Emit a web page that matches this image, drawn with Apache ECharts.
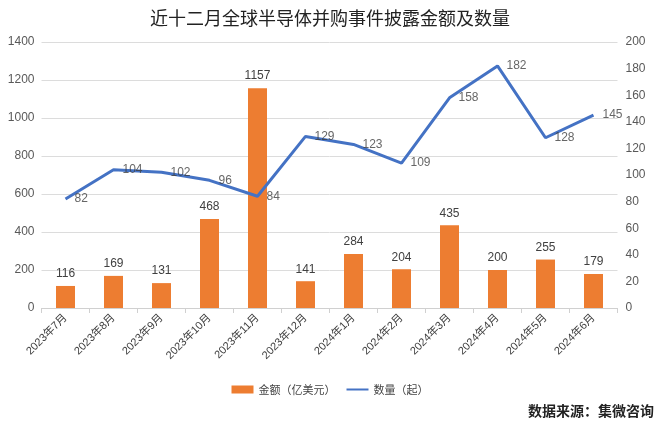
<!DOCTYPE html>
<html>
<head>
<meta charset="utf-8">
<script src="https://cdn.jsdelivr.net/npm/echarts@6/dist/echarts.min.js"></script>
<style>html,body{margin:0;padding:0;background:#fff;}#c{width:660px;height:428px;}</style>
</head>
<body>
<div id="c"></div>
<script>
const categories = ['2023年7月','2023年8月','2023年9月','2023年10月','2023年11月','2023年12月','2024年1月','2024年2月','2024年3月','2024年4月','2024年5月','2024年6月'];
const amountValues = [116,169,131,468,1157,141,284,204,435,200,255,179];
const countValues = [82,104,102,96,84,129,123,109,158,182,128,145];
const amountName = '金额（亿美元）';
const countName = '数量（起）';

const chart = echarts.init(document.getElementById('c'));
const cjk = '"Noto Sans CJK SC", sans-serif';
const num = '"Liberation Sans", "Noto Sans CJK SC", sans-serif';
chart.setOption({
  animation: false,
  textStyle: { fontFamily: num },
  title: {
    text: '近十二月全球半导体并购事件披露金额及数量',
    left: 'center', top: 4,
    textStyle: { fontSize: 18, fontWeight: 'normal', color: '#222', fontFamily: cjk }
  },
  graphic: [{
    type: 'text', right: 6, top: 404,
    style: { text: '数据来源：集微咨询', fontSize: 14, fontWeight: 'bold', fill: '#222', fontFamily: cjk }
  }],
  legend: {
    bottom: 28, left: 'center', itemGap: 10, itemWidth: 22, itemHeight: 8,
    textStyle: { fontSize: 11, color: '#444', fontFamily: cjk },
    data: [
      { name: amountName, icon: 'rect' },
      { name: countName, itemStyle: { opacity: 0, borderWidth: 0 } }
    ]
  },
  grid: { left: 41.5, right: 42.5, top: 42, bottom: 120 },
  xAxis: {
    type: 'category', data: categories,
    axisLine: { lineStyle: { color: '#d0d0d0' } },
    axisTick: { show: true, alignWithLabel: false, lineStyle: { color: '#d0d0d0' } },
    axisLabel: { rotate: 45, interval: 0, fontSize: 11, color: '#404040', margin: 8, fontFamily: num }
  },
  yAxis: [{
    type: 'value', min: 0, max: 1400, interval: 200,
    axisLine: { show: false }, axisTick: { show: false },
    axisLabel: { fontSize: 12, color: '#595959', margin: 7, formatter: v => String(v) },
    splitLine: { lineStyle: { color: '#dcdcdc' } }
  }, {
    type: 'value', min: 0, max: 200, interval: 20,
    axisLine: { show: false }, axisTick: { show: false },
    axisLabel: { fontSize: 12, color: '#595959', margin: 8, formatter: v => String(v) },
    splitLine: { show: false }
  }],
  series: [{
    name: amountName, type: 'bar', data: amountValues, barWidth: 19,
    itemStyle: { color: '#ED7D31' },
    label: { show: true, position: 'top', fontSize: 12, color: '#404040', distance: 6 }
  }, {
    name: countName, type: 'line', yAxisIndex: 1, data: countValues,
    symbol: 'none',
    lineStyle: { color: '#4472C4', width: 3 },
    itemStyle: { color: '#4472C4' }
  }, {
    name: 'countLabels', type: 'scatter', yAxisIndex: 1, data: countValues,
    symbolSize: 0, silent: true, z: 5,
    itemStyle: { color: 'transparent' },
    label: { show: true, position: 'right', fontSize: 12, color: '#404040', distance: 9 }
  }]
});
</script>
</body>
</html>
